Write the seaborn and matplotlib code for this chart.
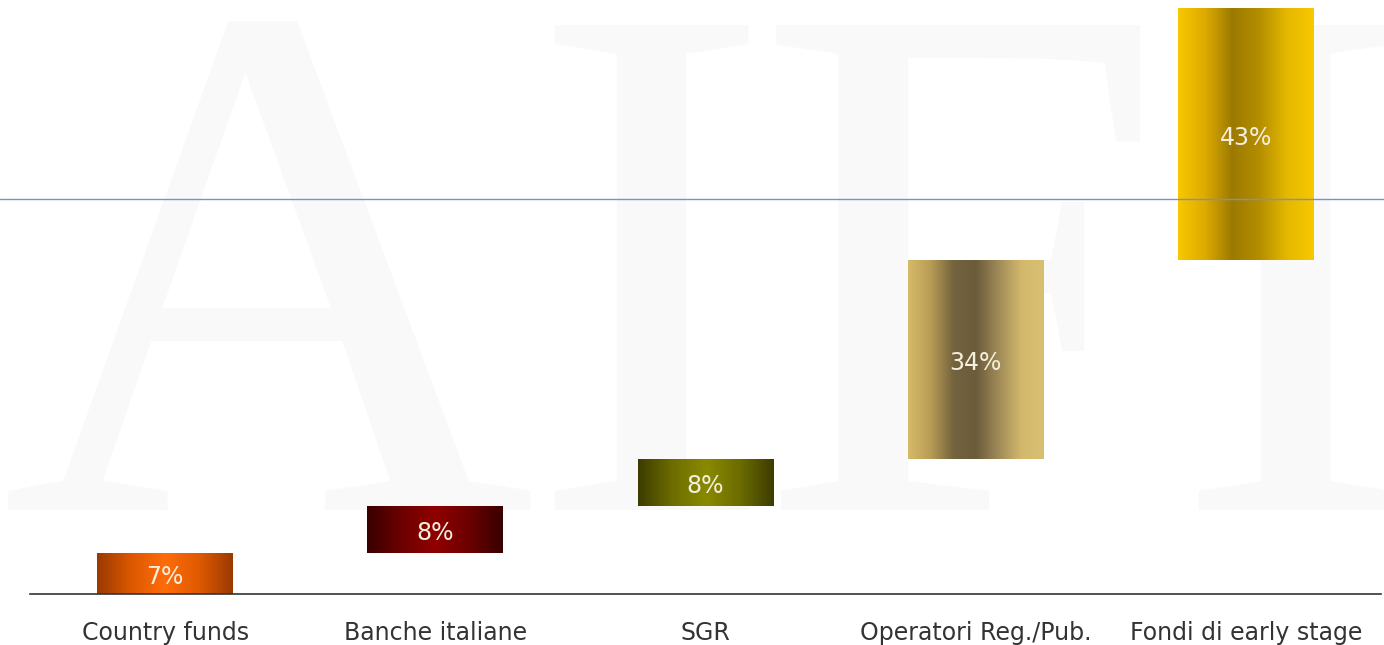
import matplotlib.pyplot as plt
import seaborn as sns
import numpy as np
import pandas as pd
from matplotlib.colors import LinearSegmentedColormap

# data
categories = ["Country funds", "Banche italiane", "SGR", "Operatori Reg./Pub.", "Fondi di early stage"]
shares = [7, 8, 8, 34, 43]
bar_labels = ["7%", "8%", "8%", "34%", "43%"]
ref_line = 67.4  # thin horizontal guide line

# horizontal gradient stops for each bar (left -> right)
gradients = [
    ["#9a3a00", "#dc5800", "#ff6c0a", "#e05a00", "#9a3a00"],
    ["#380000", "#6c0000", "#900000", "#6c0000", "#380000"],
    ["#3c3c00", "#6c6c00", "#8a8a00", "#6c6c00", "#3c3c00"],
    ["#d6ba6a", "#b89c55", "#74633f", "#6a5b3b", "#a08a58", "#d2b86c", "#d8c072"],
    ["#f8c800", "#dcaa00", "#9c7a00", "#b48e00", "#e4b800", "#f8c800"],
]

sns.set_theme(style="white")
plt.rcParams['font.family'] = ['DejaVu Sans']

df = pd.DataFrame({"source": categories, "share": shares})
df["start"] = df["share"].cumsum() - df["share"]

W, H = 1384, 645
fig = plt.figure(figsize=(W / 100, H / 100), dpi=100)
fig.patch.set_facecolor("white")

# faint AIFI watermark
for ch, xc in zip("AIFI", [268, 650, 960, 1295]):
    fig.text(xc / W, (H - 510) / H, ch, fontsize=533, family="Liberation Serif",
             color="#f9f9f9", ha="center", va="baseline", zorder=-5)

ax = fig.add_axes([30 / W, 51 / H, 1351 / W, 586 / H])
ax.patch.set_alpha(0)

sns.barplot(data=df, x="source", y="share", ax=ax, width=0.503,
            color="white", linewidth=0, saturation=1)

for patch, start, share, stops in zip(ax.patches, df["start"], df["share"], gradients):
    patch.set_y(start)
    x0, w = patch.get_x(), patch.get_width()
    cmap = LinearSegmentedColormap.from_list("g", stops)
    grad = np.linspace(0, 1, 256)[None, :]
    im = ax.imshow(grad, cmap=cmap, aspect="auto", interpolation="bilinear",
                   extent=[x0, x0 + w, start, start + share], zorder=2)
    im.set_clip_path(patch)

for i, (start, share, lab) in enumerate(zip(df["start"], df["share"], bar_labels)):
    ax.text(i, start + share / 2 - 0.6, lab, ha="center", va="center",
            color="#f4eedc", fontsize=17, zorder=4)

ax.axhline(ref_line, xmin=-30 / 1351, xmax=1.003, color="#7d8fc8", lw=1,
           clip_on=False, zorder=5)

ax.set_xlim(-0.5, 4.5)
ax.set_ylim(0, 100)
for s in ["top", "right", "left"]:
    ax.spines[s].set_visible(False)
ax.spines["bottom"].set_color("#333333")
ax.spines["bottom"].set_linewidth(1.2)
ax.set_yticks([])
ax.set_xlabel("")
ax.set_ylabel("")
ax.tick_params(axis="x", length=0, pad=19.5, labelsize=17, labelcolor="#333333")

fig.savefig("out.png", dpi=100)
